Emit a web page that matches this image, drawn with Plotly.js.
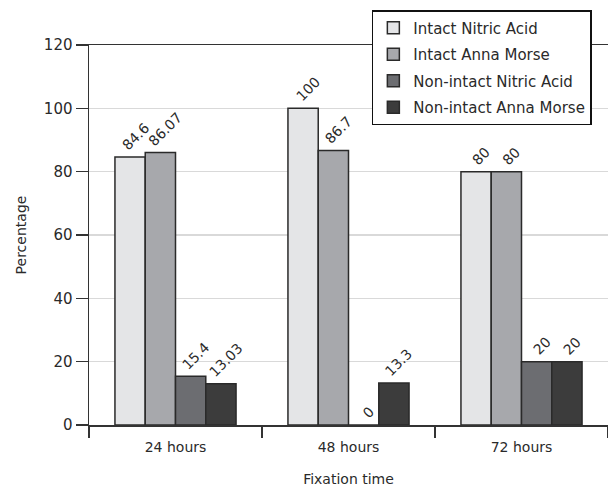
<!DOCTYPE html>
<html>
<head>
<meta charset="utf-8">
<script src="https://cdn.plot.ly/plotly-3.0.1.min.js"></script>
<style>html,body{margin:0;padding:0;background:#fff;}#chart{width:608px;height:490px;}</style>
</head>
<body>
<div id="chart"></div>
<script>
var categories = ["24 hours", "48 hours", "72 hours"];
var seriesNames = ["Intact Nitric Acid", "Intact Anna Morse", "Non-intact Nitric Acid", "Non-intact Anna Morse"];
var intactNitric = [84.6, 100, 80];
var intactAnna = [86.07, 86.7, 80];
var nonIntactNitric = [15.4, 0, 20];
var nonIntactAnna = [13.03, 13.3, 20];
var yTickVals = [0, 20, 40, 60, 80, 100, 120];

var seriesValues = [intactNitric, intactAnna, nonIntactNitric, nonIntactAnna];
var colors = ["#e4e5e7", "#a7a8ac", "#6c6d71", "#3c3c3c"];
var fontFam = "'DejaVu Sans', sans-serif";
var bargap = 0.3;
var nSeries = seriesValues.length;
var barW = (1 - bargap) / nSeries;

var traces = seriesValues.map(function (vals, i) {
  return {
    type: "bar",
    name: seriesNames[i],
    legendgroup: "g" + i,
    x: categories,
    y: vals,
    marker: {color: colors[i], line: {color: "#2a2a2a", width: 1.5}},
    hoverinfo: "skip"
  };
});

var annotations = [];
seriesValues.forEach(function (vals, i) {
  var off = -(1 - bargap) / 2 + barW * (i + 0.5);
  vals.forEach(function (v, j) {
    annotations.push({
      x: j + off, y: v, xref: "x", yref: "y",
      text: String(v), showarrow: false,
      textangle: -45, xanchor: "center", yanchor: "bottom",
      xshift: 5, yshift: 1,
      font: {family: fontFam, size: 14, color: "#2a2a2a"}
    });
  });
});

var layout = {
  width: 608, height: 490,
  margin: {l: 89, r: 0, t: 45, b: 65},
  paper_bgcolor: "#fff", plot_bgcolor: "#fff",
  barmode: "group",
  bargap: bargap,
  bargroupgap: 0,
  font: {family: fontFam, color: "#2a2a2a", size: 14},
  showlegend: true,
  annotations: annotations,
  legend: {
    x: 0.545, y: 1.092, xanchor: "left", yanchor: "top",
    bgcolor: "#fff", bordercolor: "#111", borderwidth: 1.5,
    font: {family: fontFam, size: 15, color: "#2a2a2a"},
    traceorder: "grouped",
    tracegroupgap: 4
  },
  xaxis: {
    type: "category",
    showline: true, linecolor: "#333", linewidth: 1.5,
    mirror: true,
    ticks: "outside", tickson: "boundaries", ticklen: 11, tickcolor: "#333", tickwidth: 1.5,
    ticklabelstandoff: 9,
    tickfont: {family: fontFam, size: 14, color: "#2a2a2a"},
    title: {text: "Fixation time", font: {family: fontFam, size: 14, color: "#2a2a2a"}, standoff: 20},
    showgrid: false, zeroline: false
  },
  yaxis: {
    range: [0, 120],
    tickvals: yTickVals,
    showline: true, linecolor: "#333", linewidth: 1.5,
    ticks: "outside", ticklen: 12, tickcolor: "#333", tickwidth: 1.5,
    tickfont: {family: fontFam, size: 15, color: "#2a2a2a"},
    showgrid: true, gridcolor: "#d9d9d9", gridwidth: 1.5,
    zeroline: false,
    title: {text: "Percentage", font: {family: fontFam, size: 14, color: "#2a2a2a"}, standoff: 14}
  }
};

Plotly.newPlot("chart", traces, layout, {displayModeBar: false, staticPlot: true});
</script>
</body>
</html>
